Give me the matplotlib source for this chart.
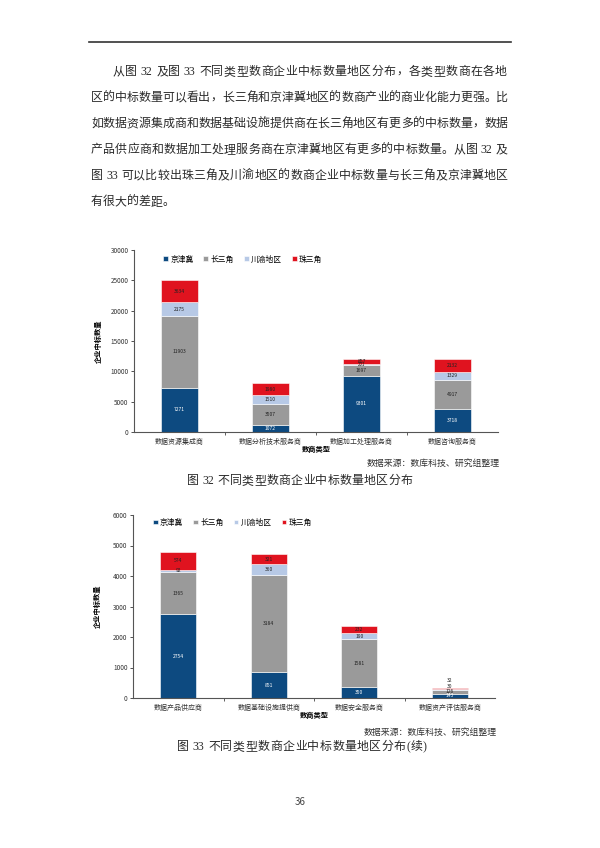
import matplotlib.pyplot as plt
import numpy as np

plt.rcParams['font.family'] = ['Noto Sans CJK SC', 'DejaVu Sans']

W, H = 600, 848

regions = ['京津冀', '长三角', '川渝地区', '珠三角']
colors = ['#0d4a80', '#9a9a9a', '#b7c9e6', '#e0131f']

# figure 32
cats_32 = ['数据资源集成商', '数据分析技术服务商', '数据加工处理服务商', '数据咨询服务商']
jjj_32 = [7271, 1072, 9301, 3718]
csj_32 = [11903, 3507, 1697, 4917]
cy_32 = [2175, 1510, 201, 1329]
zsj_32 = [3634, 1980, 857, 2132]

# figure 33
cats_33 = ['数据产品供应商', '数据基础设施提供商', '数据安全服务商', '数据资产评估服务商']
jjj_33 = [2754, 851, 350, 143]
csj_33 = [1365, 3184, 1581, 126]
cy_33 = [92, 360, 190, 30]
zsj_33 = [574, 321, 232, 32]

body_lines = [
    '从图 32 及图 33 不同类型数商企业中标数量地区分布，各类型数商在各地',
    '区的中标数量可以看出，长三角和京津冀地区的数商产业的商业化能力更强。比',
    '如数据资源集成商和数据基础设施提供商在长三角地区有更多的中标数量，数据',
    '产品供应商和数据加工处理服务商在京津冀地区有更多的中标数量。从图 32 及',
    '图 33 可以比较出珠三角及川渝地区的数商企业中标数量与长三角及京津冀地区',
    '有很大的差距。',
]
source = '数据来源：数库科技、研究组整理'
caption_32 = '图 32 不同类型数商企业中标数量地区分布'
caption_33 = '图 33 不同类型数商企业中标数量地区分布(续)'

serif = ['Liberation Serif', 'Noto Sans CJK SC']

fig = plt.figure(figsize=(6, 8.48), dpi=100, facecolor='white')


def fx(x):
    return x / W


def fy(y):
    return 1 - y / H


def spread_text(s, x0, x1, y, fs, justify=True, color='#2a2a2a'):
    # lay out a line of CJK text, stretched to fill x0..x1 like the page does
    em = fs * 100 / 72
    units = []
    i = 0
    while i < len(s):
        ch = s[i]
        if ch == ' ':
            units.append(('', 0.25 * em))
            i += 1
        elif ch.isascii():
            j = i
            while j < len(s) and s[j].isascii() and s[j] != ' ':
                j += 1
            w = sum(0.333 if c in '()' else 0.5 for c in s[i:j]) * em
            units.append((s[i:j], w))
            i = j
        else:
            units.append((ch, em))
            i += 1
    natural = sum(w for _, w in units)
    gap = ((x1 - x0) - natural) / (len(units) - 1) if justify else 0
    x = x0
    for t, w in units:
        if t:
            fig.text(fx(x), fy(y), t, fontsize=fs, family=serif, color=color,
                     ha='left', va='center')
        x += w + (gap if t not in '()' else gap * 0.2)


# header rule
fig.add_artist(plt.Line2D([fx(89), fx(511)], [fy(42), fy(42)], color='#333333', lw=1.2))

# paragraph
for k, line in enumerate(body_lines):
    y = 72 + 26 * k
    x0 = 113 if k == 0 else 91
    spread_text(line, x0, 508, y, 8.6, justify=(k < len(body_lines) - 1))


def stacked(ax, cats, series, ymax, step, leg_x, leg_y):
    x = np.arange(len(cats))
    totals = np.sum(np.array(series, float), axis=0)
    bottom = np.zeros(len(cats))
    n_above = np.zeros(len(cats), int)
    for name, vals, c in zip(regions, series, colors):
        vals = np.array(vals, float)
        ax.bar(x, vals, 0.4, bottom=bottom, color=c, edgecolor='white',
               linewidth=0.4, label=name, zorder=2)
        tc = 'white' if c == colors[0] else '#222222'
        for xi, b, v in zip(x, bottom, vals):
            if v < ymax * 0.006:
                ax.annotate(f'{int(v)}', (xi, totals[xi]), xytext=(0, 1 + 4.5 * n_above[xi]),
                            textcoords='offset points', ha='center', va='center',
                            fontsize=3.6, color='#222222')
                n_above[xi] += 1
            elif v < ymax * 0.01:
                # thin slice: tuck the label against the top of the segment
                ax.annotate(f'{int(v)}', (xi, b + v), xytext=(0, -0.6),
                            textcoords='offset points', ha='center', va='center',
                            fontsize=3.2, color=tc, zorder=3)
            else:
                ax.text(xi, b + v / 2, f'{int(v)}', ha='center', va='center',
                        fontsize=3.6, color=tc, zorder=3)
        bottom = bottom + vals

    ax.set_xlim(-0.5, len(cats) - 0.5)
    ax.set_ylim(0, ymax)
    ax.set_yticks(np.arange(0, ymax + 1, step))
    ax.set_xticks(x)
    ax.set_xticklabels(cats, fontsize=5, color='#333333')
    ax.set_xticks(np.arange(0.5, len(cats) - 1, 1), minor=True)
    ax.tick_params(axis='x', which='major', length=0, pad=4)
    ax.tick_params(axis='x', which='minor', length=2, width=0.6, direction='out', color='#444444')
    ax.tick_params(axis='y', labelsize=4.6, length=2, width=0.6, colors='#333333', pad=2)
    for s in ['top', 'right']:
        ax.spines[s].set_visible(False)
    for s in ['left', 'bottom']:
        ax.spines[s].set_color('#555555')
        ax.spines[s].set_linewidth(0.8)
    ax.set_xlabel('数商类型', fontsize=5.2, fontweight='bold', labelpad=0.5)
    ax.set_ylabel('企业中标数量', fontsize=5.2, fontweight='bold')
    ax.yaxis.set_label_coords(-0.088, 0.5)
    ax.legend(loc='upper left', bbox_to_anchor=(leg_x, leg_y), ncol=4, frameon=False,
              fontsize=5.6, handlelength=0.6, handleheight=0.6, handletextpad=0.3,
              columnspacing=1.3, borderpad=0, borderaxespad=0)


ax1 = fig.add_axes([fx(134), fy(432), (498 - 134) / W, (432 - 250) / H])
stacked(ax1, cats_32, [jjj_32, csj_32, cy_32, zsj_32], 30000, 5000, 0.08, 0.97)

ax2 = fig.add_axes([fx(133), fy(698), (495 - 133) / W, (698 - 515) / H])
stacked(ax2, cats_33, [jjj_33, csj_33, cy_33, zsj_33], 6000, 1000, 0.055, 0.98)

# sources and captions
fig.text(fx(500), fy(463), source, fontsize=6.4, family=serif, color='#333333',
         ha='right', va='center')
spread_text(caption_32, 187, 413, 481, 8.6)
fig.text(fx(497), fy(732), source, fontsize=6.4, family=serif, color='#333333',
         ha='right', va='center')
spread_text(caption_33, 177, 428, 747, 8.6)

fig.text(0.5, fy(802), '36', fontsize=7, color='#444444', ha='center', va='center')

fig.savefig('out.png', dpi=100, facecolor='white')
